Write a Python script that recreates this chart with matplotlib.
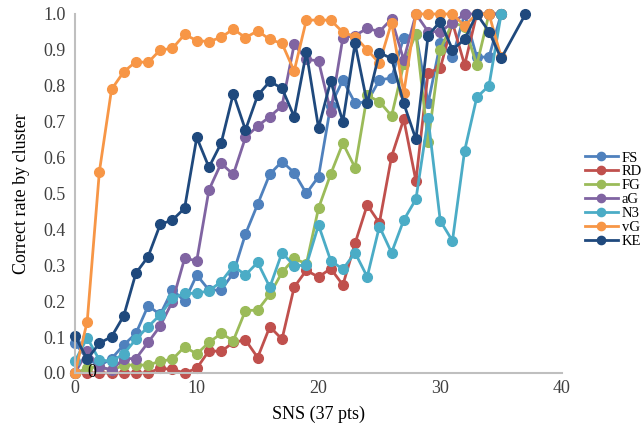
import numpy as np
from matplotlib import pyplot as plt

plt.rcParams['font.family'] = ['Liberation Serif', 'DejaVu Serif']

sns_x = list(range(36))
ke_x = list(range(36)) + [37]

fs = [0.083, 0.04, 0.02, 0.04, 0.078, 0.11, 0.187, 0.163, 0.232, 0.20, 0.273, 0.231,
      0.231, 0.278, 0.387, 0.47, 0.554, 0.589, 0.558, 0.50, 0.547, 0.745, 0.816, 0.752,
      0.755, 0.816, 0.822, 0.934, 0.945, 0.751, 0.918, 0.88, 1.0, 0.88, 0.88, 1.0]
rd = [0.0, 0.0, 0.0, 0.0, 0.0, 0.0, 0.0, 0.013, 0.01, 0.0, 0.013, 0.062,
      0.06, 0.085, 0.092, 0.043, 0.129, 0.094, 0.239, 0.286, 0.267, 0.291, 0.245, 0.361,
      0.468, 0.418, 0.603, 0.707, 0.535, 0.837, 0.849, 0.976, 0.858, 1.0, 1.0, 1.0]
fg = [0.0, 0.013, 0.018, 0.007, 0.022, 0.022, 0.022, 0.033, 0.038, 0.073, 0.053, 0.085,
      0.11, 0.09, 0.174, 0.175, 0.219, 0.28, 0.319, 0.304, 0.459, 0.554, 0.64, 0.572,
      0.773, 0.756, 0.716, 0.86, 0.945, 0.644, 0.90, 0.976, 0.965, 0.858, 1.0, 1.0]
ag = [0.0, 0.06, 0.018, 0.008, 0.04, 0.04, 0.085, 0.131, 0.199, 0.319, 0.313, 0.51,
      0.584, 0.553, 0.656, 0.688, 0.714, 0.744, 0.915, 0.874, 0.869, 0.728, 0.934, 0.94,
      0.96, 0.951, 0.986, 0.872, 1.0, 0.951, 0.951, 0.975, 1.0, 1.0, 1.0, 1.0]
n3 = [0.033, 0.098, 0.036, 0.033, 0.053, 0.094, 0.129, 0.162, 0.208, 0.222, 0.222, 0.229,
      0.254, 0.298, 0.273, 0.308, 0.239, 0.335, 0.299, 0.30, 0.412, 0.313, 0.289, 0.335,
      0.268, 0.408, 0.335, 0.426, 0.484, 0.709, 0.424, 0.368, 0.619, 0.768, 0.80, 1.0]
vg = [0.0, 0.143, 0.561, 0.79, 0.839, 0.867, 0.865, 0.90, 0.904, 0.943, 0.926, 0.923,
      0.935, 0.958, 0.934, 0.953, 0.929, 0.918, 0.841, 0.983, 0.983, 0.983, 0.949, 0.937,
      0.90, 0.863, 0.976, 0.78, 1.0, 1.0, 1.0, 1.0, 0.967, 1.0, 1.0, 0.88]
ke = [0.103, 0.038, 0.083, 0.101, 0.159, 0.278, 0.324, 0.414, 0.426, 0.459, 0.656, 0.573,
      0.64, 0.778, 0.677, 0.773, 0.812, 0.793, 0.714, 0.893, 0.683, 0.813, 0.70, 0.918,
      0.751, 0.892, 0.876, 0.751, 0.651, 0.94, 0.979, 0.901, 0.929, 1.0, 0.951, 0.876, 1.0]

names = ['FS', 'RD', 'FG', 'aG', 'N3', 'vG', 'KE']
xs = [sns_x, sns_x, sns_x, sns_x, sns_x, sns_x, ke_x]
ys = [fs, rd, fg, ag, n3, vg, ke]
colors = ['#4f81bd', '#c0504d', '#9bbb59', '#8064a2', '#4bacc6', '#f79646', '#1f497d']

fig = plt.figure(figsize=(6.44, 4.37), dpi=100)
ax = fig.add_axes([0.1165, 0.1465, 0.7562, 0.8215])

for x, y, n, c in zip(xs, ys, names, colors):
    ax.plot(x, y, '-o', color=c, label=n, lw=2.0, ms=7, clip_on=False)

ax.set_xlim(0, 40)
ax.set_ylim(0, 1.0)
ax.set_xticks(np.arange(0, 41, 10))
ax.set_yticks(np.arange(0, 1.01, 0.1))
ax.yaxis.set_major_formatter(plt.FormatStrFormatter('%.1f'))
ax.tick_params(length=0, labelsize=13, colors='#404040')
ax.tick_params(axis='x', pad=5)
ax.tick_params(axis='y', pad=7)
for s in ['top', 'right']:
    ax.spines[s].set_visible(False)
for s in ['left', 'bottom']:
    ax.spines[s].set_color('#bfbfbf')
    ax.spines[s].set_linewidth(1.5)

ax.set_xlabel('SNS (37 pts)', fontsize=13, labelpad=6)
ax.set_ylabel('Correct rate by cluster', fontsize=13, labelpad=9)
ax.text(1.4, 0.0, '0', fontsize=13, ha='center', va='center', zorder=10, clip_on=False)

ax.legend(loc='center left', bbox_to_anchor=(0.9, 0.543), bbox_transform=fig.transFigure,
          frameon=False, fontsize=10.5, labelspacing=0.05, handlelength=2.2,
          handletextpad=0.3, borderaxespad=0, markerscale=0.85)

plt.savefig('out.png', dpi=100)
